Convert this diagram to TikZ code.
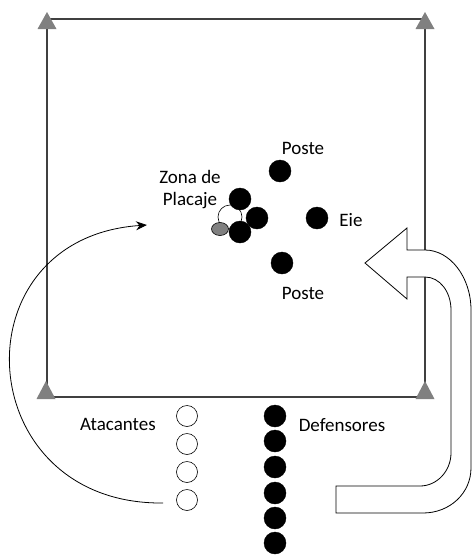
\documentclass[tikz,border=0pt]{standalone}
\usepackage{fontspec}
\setmainfont{Carlito}
\usetikzlibrary{arrows.meta}
\definecolor{linegray}{HTML}{404040}
\definecolor{conegray}{HTML}{808080}
\tikzset{
  defender/.style={circle,fill=black,draw=black,inner sep=0pt,minimum size=22pt},
  attacker/.style={circle,fill=white,draw=black,line width=0.6pt,inner sep=0pt,minimum size=21pt},
  lbl/.style={inner sep=0pt,font=\fontsize{19}{22}\selectfont},
  cone/.style={fill=conegray},
  field/.style={draw=linegray,line width=1.1pt},
  runarrow/.style={draw=black,line width=0.8pt,-{Stealth[length=11pt,width=9pt]}},
  blockarrow/.style={draw=black,line width=0.8pt,fill=white}
}
\begin{document}
\begin{tikzpicture}[x=1pt,y=-1pt]
\useasboundingbox (0,0) rectangle (473,555);
% field
\coordinate (tl) at (47,19);
\coordinate (tr) at (425,19);
\coordinate (br) at (425,397);
\coordinate (bl) at (47,397);
\draw[field] (tl) -- (tr) -- (br) -- (bl) -- cycle;
% cones
\fill[cone] (47,12) -- (56.5,29) -- (37.5,29) -- cycle;
\fill[cone] (425,12) -- (434.5,29) -- (415.5,29) -- cycle;
\fill[cone] (46,381) -- (55.5,399) -- (36.5,399) -- cycle;
\fill[cone] (425,381) -- (434.5,399) -- (415.5,399) -- cycle;
% block U-turn arrow
\draw[blockarrow] (365,263) -- (407,228) -- (407,250) -- (425,250)
  .. controls (450,250) and (471,277) .. (471,310)
  -- (471,468)
  .. controls (471,493) and (450,513) .. (423,513)
  -- (336,513) -- (336,486) -- (420,486)
  .. controls (437,486) and (451,471) .. (451,453)
  -- (451,310)
  .. controls (451,292) and (440,277) .. (425,277)
  -- (407,277) -- (407,299) -- cycle;
% tackle zone
\node[circle,draw=black,line width=0.6pt,inner sep=0pt,minimum size=24pt] (ruck) at (230,217) {};
\draw[fill=conegray,draw=black,line width=0.6pt] (220,229) ellipse [x radius=8.5pt,y radius=6.5pt];
\node[defender] (t1) at (240,199) {};
\node[defender] (t2) at (257,218) {};
\node[defender] (t3) at (240,232) {};
\node[lbl,align=center] (zona) at (190,190) {Zona de\\Placaje};
% posts
\node[defender] (p1) at (280,171) {};
\node[defender] (eje) at (317,218) {};
\node[defender] (p2) at (282,263) {};
\node[lbl] (lp1) at (303,148) {Poste};
\node[lbl] (leje) at (351,220) {Eie};
\node[lbl] (lp2) at (303,293) {Poste};
% attackers
\node[attacker] (a1) at (187,416) {};
\node[attacker] (a2) at (187,444) {};
\node[attacker] (a3) at (187,472) {};
\node[attacker] (a4) at (187,500) {};
\node[lbl] (latt) at (118,424) {Atacantes};
% defenders
\node[defender] (d1) at (275,416) {};
\node[defender] (d2) at (275,441) {};
\node[defender] (d3) at (275,467) {};
\node[defender] (d4) at (275,493) {};
\node[defender] (d5) at (275,518) {};
\node[defender] (d6) at (275,543) {};
\node[lbl] (ldef) at (342,425) {Defensores};
% running arrow
\coordinate (runstart) at (163,503);
\coordinate (runend) at (147,225);
\draw[runarrow] (runstart) .. controls (-30,505) and (-45,238) .. (runend);
\end{tikzpicture}
\end{document}
